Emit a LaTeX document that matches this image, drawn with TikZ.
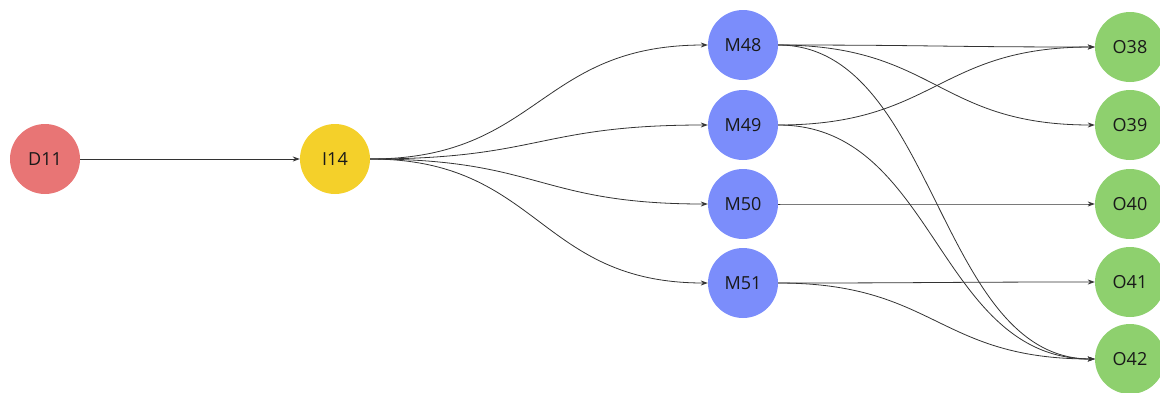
\documentclass[tikz,border=0pt]{standalone}
\usepackage{fontspec}
\setmainfont{Open Sans}
\usetikzlibrary{arrows.meta}
\definecolor{cD}{HTML}{E87575}
\definecolor{cI}{HTML}{F4D02A}
\definecolor{cM}{HTML}{7B8DFB}
\definecolor{cO}{HTML}{8ED06E}
\definecolor{edge}{HTML}{333333}
\begin{document}
\begin{tikzpicture}[x=1pt,y=-1pt,
  nd/.style={circle,minimum size=70pt,inner sep=0pt,font=\fontsize{18}{18}\selectfont,text=black!90},
  ln/.style={draw=edge,line width=0.8pt,-{Stealth[length=7pt,width=5pt]}}]
\useasboundingbox (0,0) rectangle (1160,392);
\clip (0,0) rectangle (1160,392);
\node[nd,fill=cD] (D11) at (45,159) {D11};
\node[nd,fill=cI] (I14) at (335,159) {I14};
\node[nd,fill=cM] (M48) at (743,45) {M48};
\node[nd,fill=cM] (M49) at (743,125) {M49};
\node[nd,fill=cM] (M50) at (743,204) {M50};
\node[nd,fill=cM] (M51) at (743,283) {M51};
\node[nd,fill=cO] (O38) at (1130,47) {O38};
\node[nd,fill=cO] (O39) at (1130,125) {O39};
\node[nd,fill=cO] (O40) at (1130,204) {O40};
\node[nd,fill=cO] (O41) at (1130,282) {O41};
\node[nd,fill=cO] (O42) at (1130,359) {O42};
\draw[ln] (D11.east) -- (I14.west);
\foreach \t in {M48,M49,M50,M51}{
  \draw[ln] (I14.east) .. controls +(170,0) and +(-170,0) .. (\t.west);
}
\foreach \s/\t in {M48/O38,M48/O39,M48/O42,M49/O38,M49/O42,M50/O40,M51/O41,M51/O42}{
  \draw[ln] (\s.east) .. controls +(158,0) and +(-158,0) .. (\t.west);
}
\end{tikzpicture}
\end{document}
